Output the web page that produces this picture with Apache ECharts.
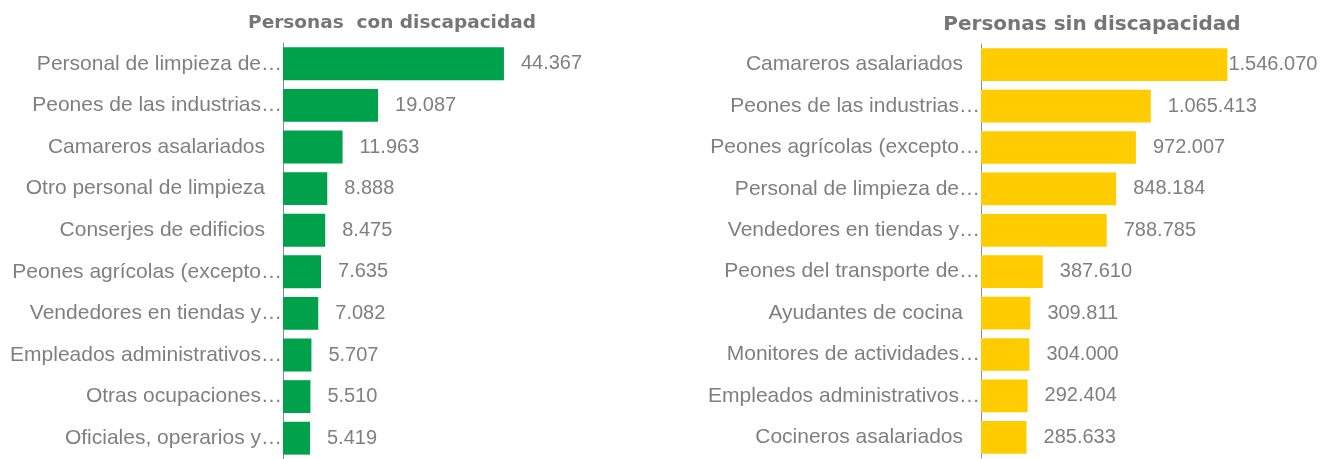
<!DOCTYPE html>
<html>
<head>
<meta charset="utf-8">
<title>Ocupaciones</title>
<script src="https://cdn.jsdelivr.net/npm/echarts@6/dist/echarts.min.js"></script>
<style>
  html, body { margin: 0; padding: 0; background: #fff; }
  #chart { width: 1335px; height: 459px; }
</style>
</head>
<body>
<div id="chart"></div>
<script>
// personas con discapacidad
const catsCon = ['Personal de limpieza de…', 'Peones de las industrias…', 'Camareros asalariados',
  'Otro personal de limpieza', 'Conserjes de edificios', 'Peones agrícolas (excepto…',
  'Vendedores en tiendas y…', 'Empleados administrativos…', 'Otras ocupaciones…', 'Oficiales, operarios y…']
const valsCon = [44367, 19087, 11963, 8888, 8475, 7635, 7082, 5707, 5510, 5419]

// personas sin discapacidad
const catsSin = ['Camareros asalariados', 'Peones de las industrias…', 'Peones agrícolas (excepto…',
  'Personal de limpieza de…', 'Vendedores en tiendas y…', 'Peones del transporte de…',
  'Ayudantes de cocina', 'Monitores de actividades…', 'Empleados administrativos…', 'Cocineros asalariados']
const valsSin = [1546070, 1065413, 972007, 848184, 788785, 387610, 309811, 304000, 292404, 285633]

const grey = '#7f7f7f'
const font = '"Liberation Sans", Arial, sans-serif'

function fmt(n) {
  return String(n).replace(/\B(?=(\d{3})+(?!\d))/g, '.')
}

function catLabel(v) {
  // los textos sin puntos suspensivos quedan algo separados del eje
  return v.endsWith('…') ? v : v + '{gap|}'
}

let myChart = echarts.init(document.getElementById('chart'))

let catAxis = (idx) => ({
  type: 'category',
  gridIndex: idx,
  data: idx === 0 ? catsCon : catsSin,
  inverse: true,
  axisLine: { show: true, lineStyle: { color: '#8c8c8c', width: 1 } },
  axisTick: { show: false },
  axisLabel: {
    color: grey,
    fontSize: 21,
    fontFamily: font,
    margin: 1,
    formatter: catLabel,
    rich: { gap: { width: 17 } }
  }
})

let valAxis = (idx, max) => ({
  type: 'value',
  gridIndex: idx,
  min: 0,
  max: max,
  show: false,
  splitLine: { show: false }
})

let barSeries = (idx, vals, color) => ({
  type: 'bar',
  xAxisIndex: idx,
  yAxisIndex: idx,
  barCategoryGap: '21%',
  itemStyle: { color: color },
  label: {
    show: true,
    position: 'right',
    distance: 17,
    color: grey,
    fontSize: 20,
    fontFamily: font,
    formatter: (p) => fmt(p.value)
  },
  // la etiqueta más larga se pega a la barra (como en el original)
  data: vals.map((v, i) => (idx === 1 && i === 0) ? { value: v, label: { distance: 1 } } : v)
})

myChart.setOption({
  animation: false,
  title: [
    {
      text: 'Personas  con discapacidad',
      left: 387, top: 9, textAlign: 'center',
      textStyle: { color: '#767676', fontSize: 18.5, fontWeight: 'bold', fontFamily: '"DejaVu Sans", sans-serif' }
    },
    {
      text: 'Personas sin discapacidad',
      left: 1087, top: 10, textAlign: 'center',
      textStyle: { color: '#767676', fontSize: 20, fontWeight: 'bold', fontFamily: '"DejaVu Sans", sans-serif' }
    }
  ],
  grid: [
    { left: 283, top: 43, width: 249, height: 418, containLabel: false },
    { left: 981, top: 44, width: 255, height: 414, containLabel: false }
  ],
  xAxis: [valAxis(0, 50000), valAxis(1, 1600000)],
  yAxis: [catAxis(0), catAxis(1)],
  series: [
    barSeries(0, valsCon, '#00a14b'),
    barSeries(1, valsSin, '#ffcc00')
  ]
})
</script>
</body>
</html>
